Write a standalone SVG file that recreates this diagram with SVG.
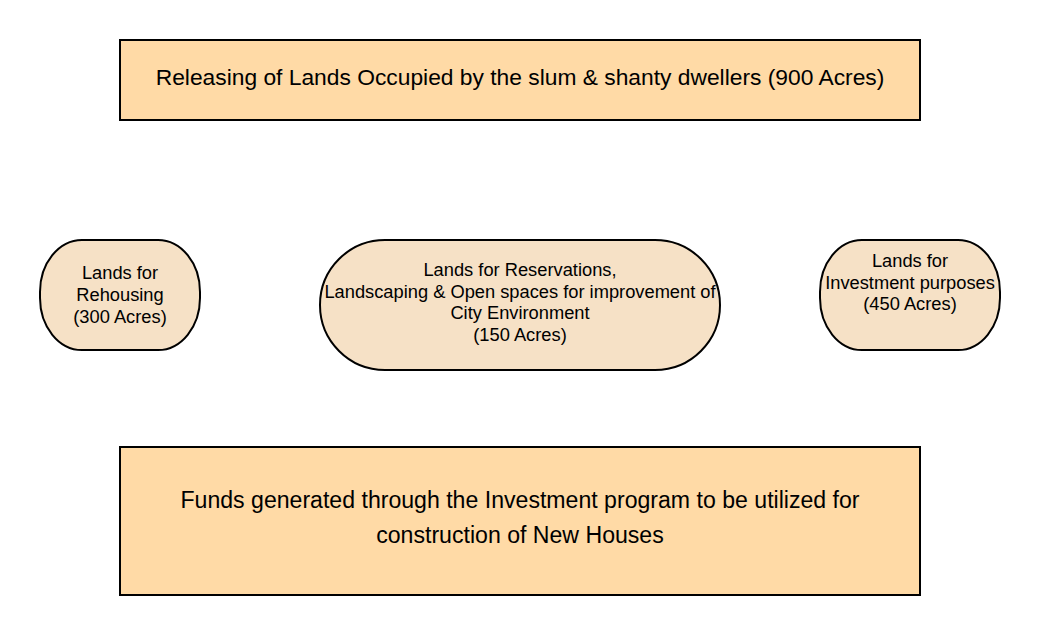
<svg xmlns="http://www.w3.org/2000/svg" width="1040" height="635" viewBox="0 0 1040 635">
<style>
.box{fill:#ffdaa6;stroke:#000;stroke-width:2}
.node{fill:#f6e1c6;stroke:#000;stroke-width:2}
text{font-family:"Liberation Sans",Arial,sans-serif;fill:#000;text-anchor:middle;dominant-baseline:central}
.big{font-size:22.8px}
.big2{font-size:23.1px}
.sm{font-size:18.3px}
</style>
<rect width="1040" height="635" fill="#fff"/>
<g id="top">
<rect class="box" x="120" y="40" width="800" height="80"/>
<text class="big" x="520" y="77">Releasing of Lands Occupied by the slum &amp; shanty dwellers (900 Acres)</text>
</g>
<g id="rehousing">
<rect class="node" x="40" y="240" width="160" height="110" rx="42" ry="52"/>
<text class="sm" x="120" y="272">Lands for</text>
<text class="sm" x="120" y="294">Rehousing</text>
<text class="sm" x="120" y="316">(300 Acres)</text>
</g>
<g id="reservations">
<rect class="node" x="320" y="240" width="400" height="130" rx="65" ry="65"/>
<text class="sm" x="520" y="269">Lands for Reservations,</text>
<text class="sm" x="520" y="291">Landscaping &amp; Open spaces for improvement of</text>
<text class="sm" x="520" y="312">City Environment</text>
<text class="sm" x="520" y="334">(150 Acres)</text>
</g>
<g id="investment">
<rect class="node" x="820" y="240" width="180" height="110" rx="42" ry="52"/>
<text class="sm" x="910" y="260">Lands for</text>
<text class="sm" x="910" y="282">Investment purposes</text>
<text class="sm" x="910" y="303">(450 Acres)</text>
</g>
<g id="funds">
<rect class="box" x="120" y="447" width="800" height="148"/>
<text class="big2" x="520" y="500">Funds generated through the Investment program to be utilized for</text>
<text class="big2" x="520" y="535">construction of New Houses</text>
</g>
<g id="connectors"></g>
</svg>
